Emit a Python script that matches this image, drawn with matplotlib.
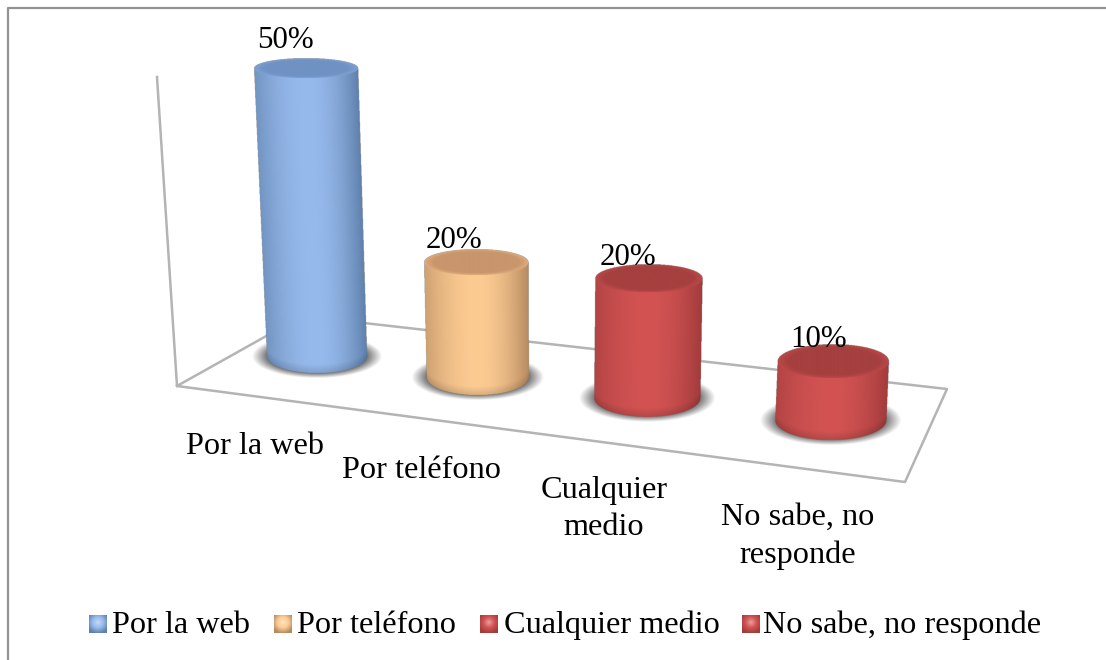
import matplotlib
matplotlib.use("Agg")
import matplotlib.pyplot as plt
from matplotlib.colors import to_rgb
import numpy as np

plt.rcParams["font.family"] = ["Liberation Serif", "DejaVu Serif"]

categories = ["Por la web", "Por teléfono", "Cualquier medio", "No sabe, no responde"]
axis_labels = ["Por la web", "Por teléfono", "Cualquier\nmedio", "No sabe, no\nresponde"]
values = [50, 20, 20, 10]
side_colors = ["#96baec", "#fccb92", "#d25352", "#d25352"]
edge_colors = ["#5f80ac", "#b68a60", "#a23b3c", "#a23b3c"]
top_colors = ["#6f93c4", "#c8966c", "#a5403f", "#a5403f"]
rim_colors = ["#7ea2d4", "#e0ab7c", "#bb4948", "#bb4948"]

# layout, pixels in the picture
base_x = [317, 477, 647, 830.5]
base_y = [356, 377, 398, 420]
half_w = [50, 51, 53, 55.5]
top_w = [52, 52, 53.5, 55.5]
base_b = [17, 18, 19, 20]
top_b = [10, 13, 14, 17]
px_per_pct = [5.76, 5.75, 5.97, 5.9]
value_dx = [-21, -22, -21, -14]
value_dy = [-20, -14, -13.5, -14]
label_pos = [(255, 446), (422, 470), (604, 509), (798, 536)]
swatch_x = [89, 274, 480, 742]
text_x = [112, 297, 504, 763]

fig = plt.figure(figsize=(11.06, 6.6), dpi=100)
ax = fig.add_axes([0, 0, 1, 1])
ax.set_xlim(0, 1106)
ax.set_ylim(660, 0)
ax.axis("off")
fs = 32.3 * 72 / 100
fs_val = 31 * 72 / 100

grey = "#b4b4b4"
# chart border
ax.plot([8, 8, 1106], [660, 7.5, 7.5], color="#929292", lw=1.6)

# floor and back wall
ax.plot([157, 177, 905, 947, 302, 177], [77, 386, 482, 389, 316, 386], color=grey, lw=1.8)


def mix(c1, c2, t):
    t = np.asarray(t)[..., None]
    return np.array(to_rgb(c1)) * (1 - t) + np.array(to_rgb(c2)) * t


for i, v in enumerate(values):
    cx, cy = base_x[i], base_y[i]
    w, b = half_w[i], base_b[i]
    h = v * px_per_pct[i]
    lean = (cx - 560) / 6400
    tx = cx + lean * h
    ty = cy - h
    bt = top_b[i]
    tw = top_w[i]

    # pixel grid round the cylinder, three samples per pixel
    x0, x1 = min(cx, tx) - w - 24, max(cx, tx) + w + 24
    y0, y1 = ty - bt - 6, cy + b + 12
    gx, gy = np.meshgrid(np.arange(x0, x1, 1 / 3), np.arange(y0, y1, 1 / 3))

    # soft shadow on the floor
    r = np.hypot((gx - cx) / (w + 15), (gy - cy) / (b + 5))
    shadow = np.clip((1 - r) / 0.28, 0, 1) * 0.85
    img = np.zeros(gx.shape + (4,))
    img[..., :3] = to_rgb("#3a3a3a")
    img[..., 3] = shadow

    # side of the cylinder
    s = np.clip((cy - gy) / h, 0, 1)
    mid_x = cx + (tx - cx) * s
    half = w + (tw - w) * s
    t = (gx - mid_x) / half
    arc = np.sqrt(np.clip(1 - t ** 2, 0, 1))
    shade = np.abs(t) ** 1.9 * np.where(t > 0, 1.0, 0.65)
    side = mix(side_colors[i], edge_colors[i], np.clip(shade, 0, 1))
    # darker towards the lower rim
    low = np.clip(1 - (cy + arc * b - gy) / 9, 0, 1)
    side = side * (1 - 0.14 * low[..., None])
    inside = (np.abs(t) <= 1) & (gy <= cy + arc * b) & (gy >= ty)
    img[inside, :3] = side[inside]
    img[inside, 3] = 1

    # top of the cylinder
    e = np.hypot((gx - tx) / tw, (gy - ty) / bt)
    on_top = e <= 1
    img[on_top, :3] = mix(rim_colors[i], top_colors[i], np.clip((1 - e[on_top]) / 0.18, 0, 1))
    img[on_top, 3] = 1

    ax.imshow(img, extent=(x0, x1, y1, y0), aspect="auto", zorder=3 + i, interpolation="antialiased")

    # value label
    ax.text(tx + value_dx[i], ty + value_dy[i], f"{v}%", fontsize=fs_val, ha="center", va="baseline",
            color="black", zorder=20)

    lx, ly = label_pos[i]
    ax.text(lx, ly, axis_labels[i], fontsize=fs, ha="center", va="center",
            linespacing=1.38, color="black", zorder=20)

    # legend entry with a lit centre
    sx = swatch_x[i]
    qx, qy = np.meshgrid(np.linspace(-1, 1, 18), np.linspace(-1, 1, 18))
    q = np.clip(np.hypot(qx, qy + 0.2) / 1.3, 0, 1)
    centre = mix("#ffffff", side_colors[i], 0.55)
    sw = np.where(q[..., None] < 0.5, centre * (1 - 2 * q[..., None]) + np.array(to_rgb(side_colors[i])) * 2 * q[..., None],
                  mix(side_colors[i], edge_colors[i], np.clip(2 * q - 1, 0, 1)))
    ax.imshow(sw, extent=(sx, sx + 18, 633, 615), aspect="auto", zorder=5, interpolation="bilinear")
    ax.text(text_x[i], 622, categories[i], fontsize=fs, ha="left", va="center_baseline",
            color="black", zorder=20)

ax.set_xlim(0, 1106)
ax.set_ylim(660, 0)
fig.savefig("out.png", dpi=100)
